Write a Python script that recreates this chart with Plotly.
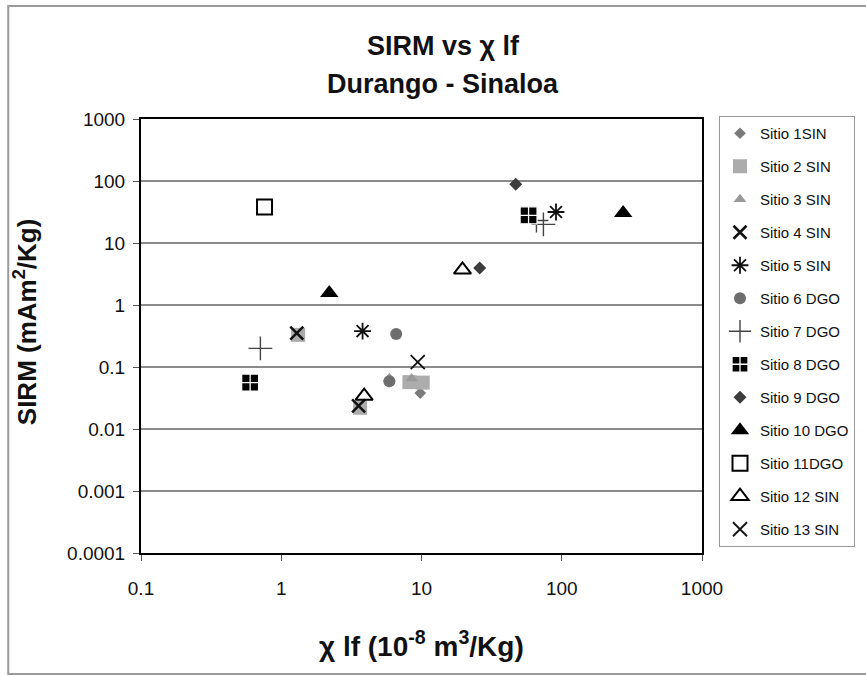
import plotly.graph_objects as go

# SIRM against low-frequency susceptibility, per sampling site (log-log)
x_ticks = [0.1, 1, 10, 100, 1000]
x_tick_labels = ["0.1", "1", "10", "100", "1000"]
y_ticks = [0.0001, 0.001, 0.01, 0.1, 1, 10, 100, 1000]
y_tick_labels = ["0.0001", "0.001", "0.01", "0.1", "1", "10", "100", "1000"]

site_names = ["Sitio 1SIN", "Sitio 2 SIN", "Sitio 3 SIN", "Sitio 4 SIN", "Sitio 5 SIN",
              "Sitio 6 DGO", "Sitio 7 DGO", "Sitio 8 DGO", "Sitio 9 DGO", "Sitio 10 DGO",
              "Sitio 11DGO", "Sitio 12 SIN", "Sitio 13 SIN"]

# chi_lf (1e-8 m3/kg) and SIRM (mAm2/kg) for each site
sitio1_x, sitio1_y = [9.8], [0.038]
sitio2_x, sitio2_y = [1.32, 3.65, 8.2, 10.2], [0.33, 0.022, 0.057, 0.056]
sitio3_x, sitio3_y = [5.9, 8.5], [0.066, 0.065]
sitio4_x, sitio4_y = [1.29, 3.56], [0.353, 0.0235]
sitio5_x, sitio5_y = [3.8, 91], [0.38, 31.6]
sitio6_x, sitio6_y = [6.6, 5.9], [0.34, 0.059]
sitio7_x, sitio7_y = [0.71, 66, 74], [0.20, 23, 20]
sitio8_x, sitio8_y = [0.6, 58], [0.056, 28]
sitio9_x, sitio9_y = [47, 26], [89, 3.95]
sitio10_x, sitio10_y = [2.2, 274], [1.56, 30.5]
sitio11_x, sitio11_y = [0.76], [38]
sitio12_x, sitio12_y = [19.6, 3.9], [3.7, 0.034]
sitio13_x, sitio13_y = [9.4], [0.12]

site_x = [sitio1_x, sitio2_x, sitio3_x, sitio4_x, sitio5_x, sitio6_x, sitio7_x,
          sitio8_x, sitio9_x, sitio10_x, sitio11_x, sitio12_x, sitio13_x]
site_y = [sitio1_y, sitio2_y, sitio3_y, sitio4_y, sitio5_y, sitio6_y, sitio7_y,
          sitio8_y, sitio9_y, sitio10_y, sitio11_y, sitio12_y, sitio13_y]

marker_styles = [
    dict(symbol="diamond", size=9, color="#7a7a7a", line=dict(width=0)),
    dict(symbol="square", size=14, color="#acacac", line=dict(width=0)),
    dict(symbol="triangle-up", size=11, color="#9a9a9a", line=dict(width=0)),
    dict(symbol="x-thin-open", size=13, color="#111", line=dict(width=2.5, color="#111")),
    dict(symbol="asterisk-open", size=14, color="#111", line=dict(width=1.8, color="#111")),
    dict(symbol="circle", size=12, color="#6e6e6e", line=dict(width=0)),
    dict(symbol="cross-thin-open", size=17, color="#444", line=dict(width=1.4, color="#444")),
    dict(symbol="square-cross", size=17, color="#000", line=dict(width=1.3, color="#fff")),
    dict(symbol="diamond", size=10, color="#3c3c3c", line=dict(width=0)),
    dict(symbol="triangle-up", size=16, color="#000", line=dict(width=0)),
    dict(symbol="square-open", size=15, color="#000", line=dict(width=2, color="#000")),
    dict(symbol="triangle-up-open", size=15, color="#000", line=dict(width=2, color="#000")),
    dict(symbol="x-thin-open", size=14, color="#111", line=dict(width=1.8, color="#111")),
]

fig = go.Figure()
for name, xs, ys, mk in zip(site_names, site_x, site_y, marker_styles):
    fig.add_trace(go.Scatter(x=xs, y=ys, mode="markers", name=name,
                             legendgroup=name, marker=mk))

font_family = "Liberation Sans, Arial, sans-serif"

# plot-area pixel geometry used to place paper-referenced annotations
L, R, T, B = 141, 703, 119, 553
W, H = R - L, B - T


def px(x):
    return (x - L) / W


def py(y):
    return (B - y) / H


fig.update_layout(
    width=866, height=676,
    margin=dict(l=L, r=866 - R, t=T, b=676 - B),
    paper_bgcolor="white", plot_bgcolor="white",
    font=dict(family=font_family, color="#111"),
    showlegend=True,
    legend=dict(x=px(719), y=py(116), xanchor="left", yanchor="top",
                bordercolor="#9a9a9a", borderwidth=1, bgcolor="white",
                font=dict(size=15, family=font_family, color="#111"),
                traceorder="grouped", tracegroupgap=10.5, itemwidth=30,
                maxheight=620),
    xaxis=dict(type="log", range=[-1, 3], tickvals=x_ticks, ticktext=x_tick_labels,
               showgrid=False, showline=True, linecolor="#000", linewidth=2, mirror=True,
               ticks="outside", ticklen=6, tickcolor="#555", tickwidth=1,
               ticklabelstandoff=11, tickfont=dict(size=19, family=font_family, color="#111"),
               zeroline=False),
    yaxis=dict(type="log", range=[-4, 3], tickvals=y_ticks, ticktext=y_tick_labels,
               showgrid=True, gridcolor="#8a8a8a", gridwidth=1.5,
               showline=True, linecolor="#000", linewidth=2, mirror=True,
               ticks="outside", ticklen=6, tickcolor="#555", tickwidth=1,
               ticklabelstandoff=4, tickfont=dict(size=19, family=font_family, color="#111"),
               zeroline=False),
    annotations=[
        dict(text="<b>SIRM vs χ lf</b>", x=px(444), y=py(46), xref="paper", yref="paper",
             showarrow=False, xanchor="center", yanchor="middle",
             font=dict(size=27, family=font_family, color="#111")),
        dict(text="<b>Durango - Sinaloa</b>", x=px(444), y=py(84), xref="paper", yref="paper",
             showarrow=False, xanchor="center", yanchor="middle",
             font=dict(size=27, family=font_family, color="#111")),
        dict(text="<b>χ lf (10<sup>-8</sup> m<sup>3</sup>/Kg)</b>", x=px(422), y=py(644),
             xref="paper", yref="paper", showarrow=False, xanchor="center", yanchor="middle",
             font=dict(size=28, family=font_family, color="#111")),
        dict(text="<b>SIRM (mAm<sup>2</sup>/Kg)</b>", x=px(25), y=py(322), textangle=-90,
             xref="paper", yref="paper", showarrow=False, xanchor="center", yanchor="middle",
             font=dict(size=26, family=font_family, color="#111")),
    ],
    shapes=[
        # outer chart frame
        dict(type="rect", xref="paper", yref="paper", x0=px(8), x1=px(880), y0=py(674), y1=py(6),
             line=dict(color="#9a9a9a", width=2), fillcolor="rgba(0,0,0,0)", layer="below"),
    ],
)

fig.write_html("out.html")
